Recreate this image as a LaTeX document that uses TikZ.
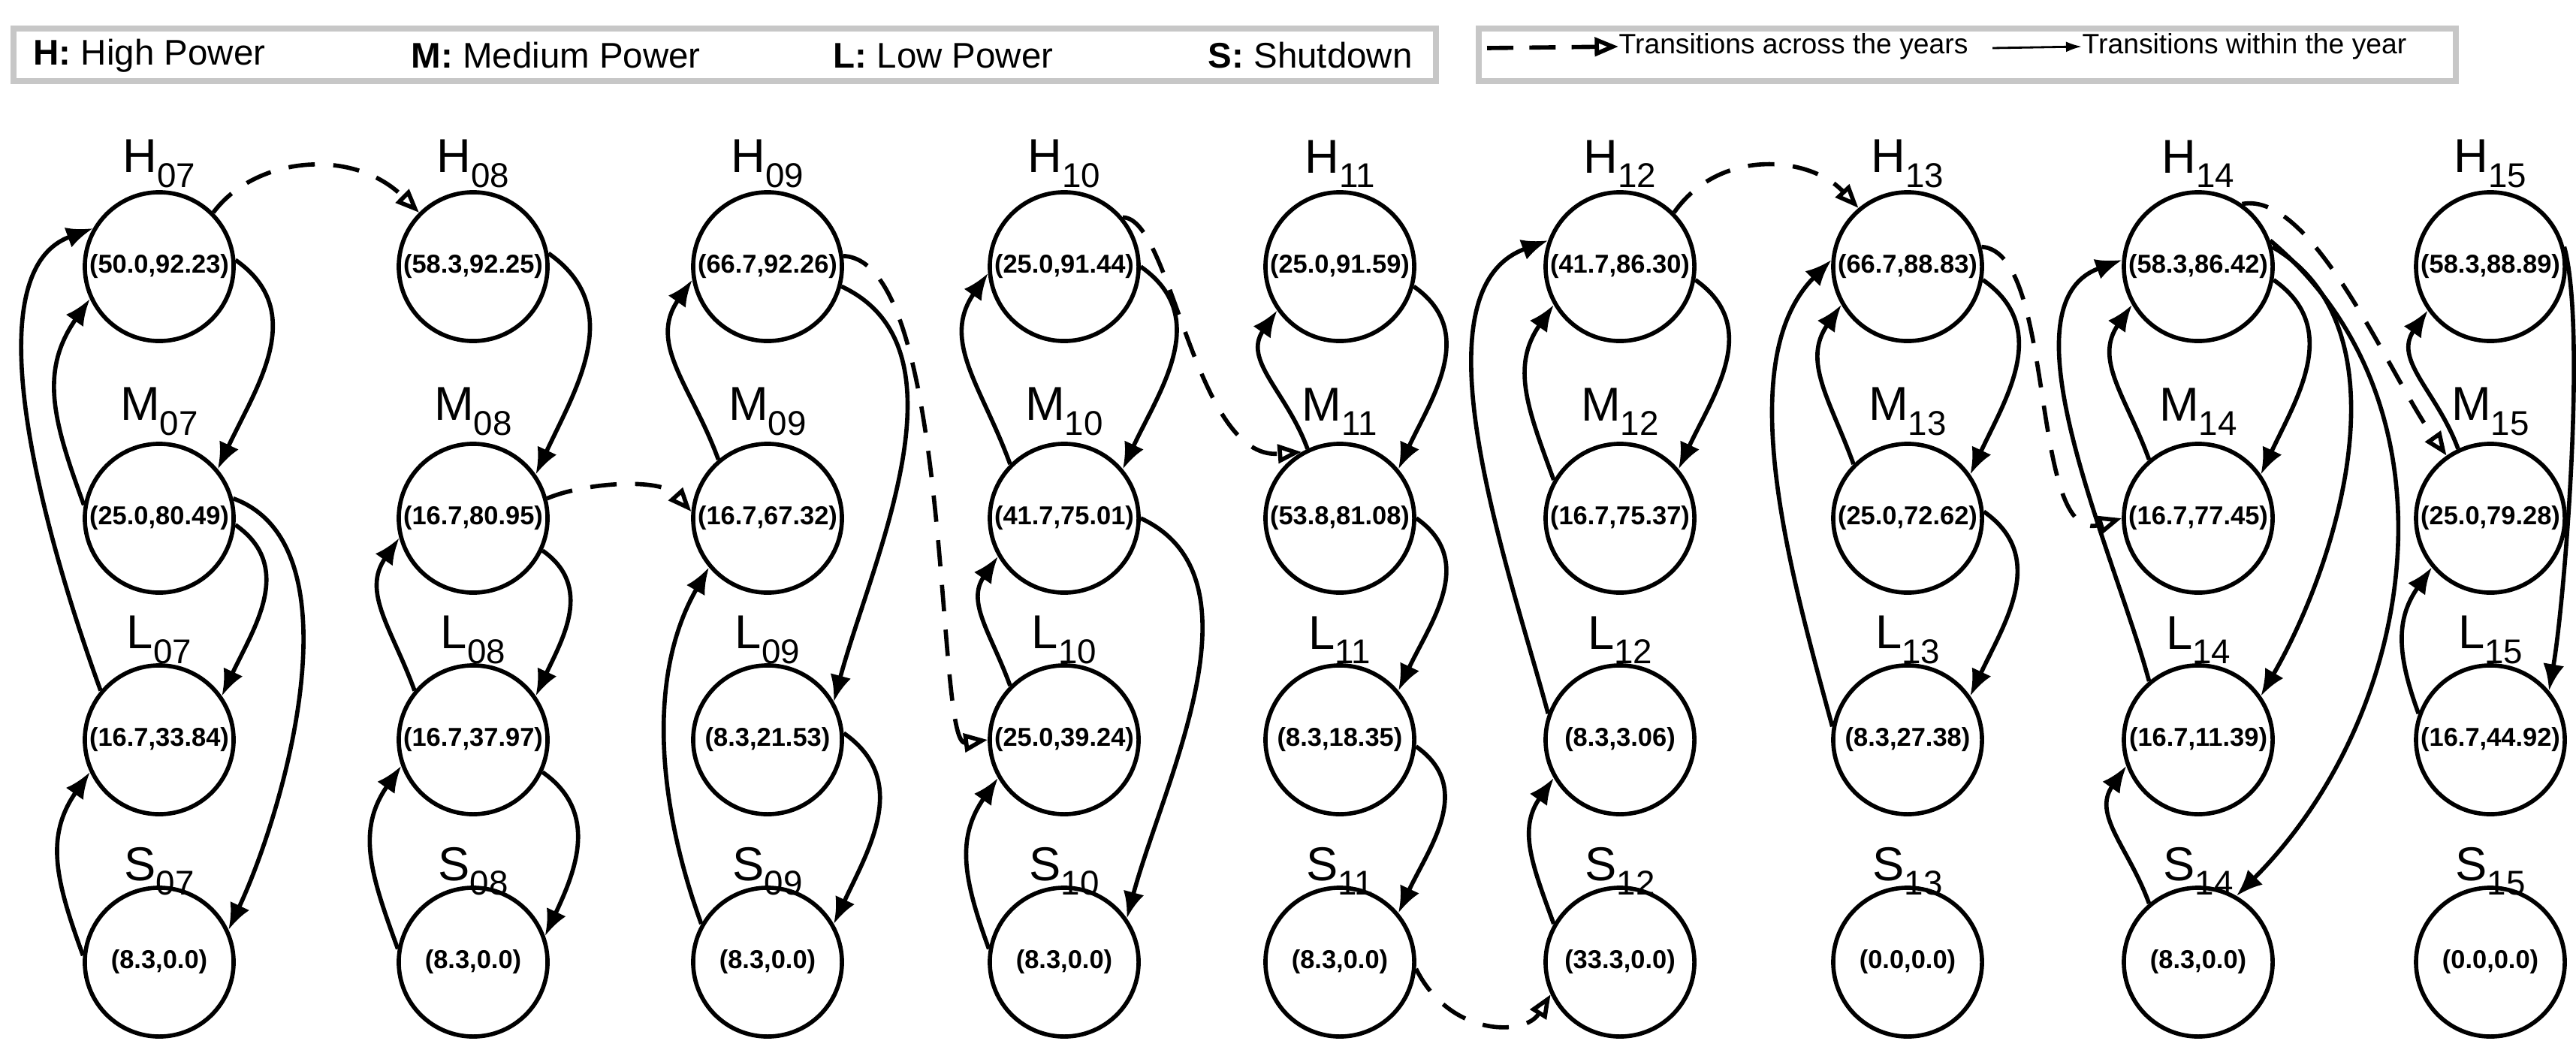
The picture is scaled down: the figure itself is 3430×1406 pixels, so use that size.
\documentclass[tikz,border=0pt]{standalone}
\usepackage{fontspec}
\setmainfont{Liberation Sans}
\usetikzlibrary{shapes.geometric,arrows.meta}
\begin{document}
\begin{tikzpicture}[x=0.01cm,y=0.01cm,
  st/.style={circle,draw,line width=1.6pt,minimum size=1.98cm,inner sep=0pt,font=\bfseries\fontsize{9.8}{10}\selectfont},
  lab/.style={inner sep=0pt},
  t/.style={line width=1.6pt,-{Latex[length=10pt,width=8pt]}},
  d/.style={line width=1.6pt,dash pattern=on 10pt off 7pt,-{Triangle[open,length=9pt,width=7pt]}},
  box/.style={draw=black!22,line width=2.2pt}]
\useasboundingbox (0,0) rectangle (3430,-1406);
\newcommand{\lbl}[2]{{\fontsize{18}{18}\selectfont #1}\raisebox{-5.5pt}{\fontsize{13}{13}\selectfont #2}}
\newcommand{\val}[1]{\makebox[0pt]{#1}}
% legend
\draw[box] (18,-38) rectangle (1912,-108);
\draw[box] (1969,-38) rectangle (3270,-108);
\begin{scope}[every node/.style={anchor=west,inner sep=0pt,font=\fontsize{13.5}{14}\selectfont}]
\node (l1) at (44,-74) {\textbf{H:} High Power};
\node (l2) at (547,-74) {\textbf{M:} Medium Power};
\node (l3) at (1109,-74) {\textbf{L:} Low Power};
\node (l4) at (1608,-74) {\textbf{S:} Shutdown};
\end{scope}
\begin{scope}[every node/.style={anchor=west,inner sep=0pt,font=\fontsize{10.6}{12}\selectfont}]
\coordinate (a1) at (1980,-64);
\node (ta) at (2155,-62) {Transitions across the years};
\coordinate (a2) at (2653,-64);
\node (tb) at (2772,-62) {Transitions within the year};
\end{scope}
\draw[line width=1.6pt,dash pattern=on 10pt off 6pt,-{Triangle[open,length=9pt,width=7pt]}] (a1) -- (ta.west);
\draw[line width=0.8pt,-{Latex[length=6pt,width=4pt]}] (a2) -- (tb.west);
% nodes
\foreach \c/\x/\h/\m/\l/\s in {07/212/{(50.0,92.23)}/{(25.0,80.49)}/{(16.7,33.84)}/{(8.3,0.0)},
 08/630/{(58.3,92.25)}/{(16.7,80.95)}/{(16.7,37.97)}/{(8.3,0.0)},
 09/1022/{(66.7,92.26)}/{(16.7,67.32)}/{(8.3,21.53)}/{(8.3,0.0)},
 10/1417/{(25.0,91.44)}/{(41.7,75.01)}/{(25.0,39.24)}/{(8.3,0.0)},
 11/1784/{(25.0,91.59)}/{(53.8,81.08)}/{(8.3,18.35)}/{(8.3,0.0)},
 12/2157/{(41.7,86.30)}/{(16.7,75.37)}/{(8.3,3.06)}/{(33.3,0.0)},
 13/2540/{(66.7,88.83)}/{(25.0,72.62)}/{(8.3,27.38)}/{(0.0,0.0)},
 14/2927/{(58.3,86.42)}/{(16.7,77.45)}/{(16.7,11.39)}/{(8.3,0.0)},
 15/3316/{(58.3,88.89)}/{(25.0,79.28)}/{(16.7,44.92)}/{(0.0,0.0)}}{
 \node[st] (H\c) at (\x,-355) {\val{\h}};
 \node[st] (M\c) at (\x,-690) {\val{\m}};
 \node[st] (L\c) at (\x,-985) {\val{\l}};
 \node[st] (S\c) at (\x,-1281) {\val{\s}};
 \node[lab] (hl\c) at (\x,-218) {\lbl{H}{\c}};
 \node[lab] (ml\c) at (\x,-548) {\lbl{M}{\c}};
 \node[lab] (ll\c) at (\x,-852) {\lbl{L}{\c}};
 \node[lab] (sl\c) at (\x,-1160) {\lbl{S}{\c}};
}
\tikzset{rd/.style={out=-35,in=65,looseness=1.1},
 lu/.style={out=110,in=235,looseness=1.1},
 rd2/.style={out=-25,in=75,looseness=0.9},
 lu2/.style={out=110,in=240,looseness=0.9}}
% col07
\draw[t] (H07.5) to[rd] (M07.40);
\draw[t] (M07.170) to[lu] (H07.205);
\draw[t] (L07.140) to[out=110,in=200,looseness=0.75] (H07.150);
\draw[t] (M07.-5) to[rd] (L07.35);
\draw[t] (M07.15) to[out=-20,in=65,looseness=0.8] (S07.25);
\draw[t] (S07.175) to[lu] (L07.205);
% col08
\draw[t] (H08.10) to[rd] (M08.35);
\draw[t] (M08.-25) to[rd] (L08.35);
\draw[t] (L08.140) to[lu] (M08.195);
\draw[t] (L08.-25) to[rd] (S08.20);
\draw[t] (S08.170) to[lu] (L08.200);
% col09
\draw[t] (M09.130) to[lu] (H09.190);
\draw[t] (H09.-15) to[rd2] (L09.30);
\draw[t] (L09.5) to[rd] (S09.30);
\draw[t] (S09.150) to[lu2] (M09.220);
% col10
\draw[t] (H10.0) to[rd] (M10.40);
\draw[t] (M10.135) to[lu] (H10.185);
\draw[t] (L10.135) to[lu] (M10.210);
\draw[t] (M10.0) to[rd2] (S10.35);
\draw[t] (S10.170) to[lu] (L10.210);
% col11
\draw[t] (M11.115) to[lu] (H11.215);
\draw[t] (H11.-15) to[rd] (M11.40);
\draw[t] (M11.0) to[rd] (L11.40);
\draw[t] (L11.-5) to[rd] (S11.40);
% col12
\draw[t] (H12.-10) to[rd] (M12.40);
\draw[t] (M12.150) to[lu] (H12.210);
\draw[t] (L12.160) to[out=105,in=200,looseness=0.8] (H12.160);
\draw[t] (S12.150) to[lu] (L12.210);
% col13
\draw[t] (H13.-10) to[rd] (M13.35);
\draw[t] (M13.135) to[lu] (H13.210);
\draw[t] (L13.170) to[out=105,in=225,looseness=0.8] (H13.175);
\draw[t] (M13.5) to[rd] (L13.35);
% col14
\draw[t] (H14.-10) to[rd] (M14.35);
\draw[t] (M14.130) to[lu] (H14.210);
\draw[t] (L14.130) to[out=105,in=200,looseness=0.8] (H14.175);
\draw[t] (H14.15) to[out=-30,in=60,looseness=0.9] (L14.35);
\draw[t] (H14.20) to[out=-40,in=45,looseness=1.0] (S14.60);
\draw[t] (S14.130) to[lu] (L14.200);
% col15
\draw[t] (M15.115) to[lu] (H15.215);
\draw[t] (H15.15) to[out=-75,in=80,looseness=0.5] (L15.40);
\draw[t] (L15.160) to[lu] (M15.220);
% across years
\draw[d] (H07.45) .. controls (340,-208) and (470,-196) .. (H08.135);
\draw[d] (M08.15) .. controls (780,-642) and (880,-636) .. (M09.175);
\draw[d] (H09.8) .. controls (1270,-347) and (1245,-994) .. (L10.180);
\draw[d] (H10.40) .. controls (1560,-289) and (1590,-613) .. (M11.120);
\draw[d] (S11.-5) .. controls (1930,-1380) and (2030,-1380) .. (S12.205);
\draw[d] (H12.45) .. controls (2290,-196) and (2410,-208) .. (H13.130);
\draw[d] (H13.15) .. controls (2740,-335) and (2700,-728) .. (M14.180);
\draw[d] (H14.55) .. controls (3080,-254) and (3180,-497) .. (M15.125);
\end{tikzpicture}
\end{document}
